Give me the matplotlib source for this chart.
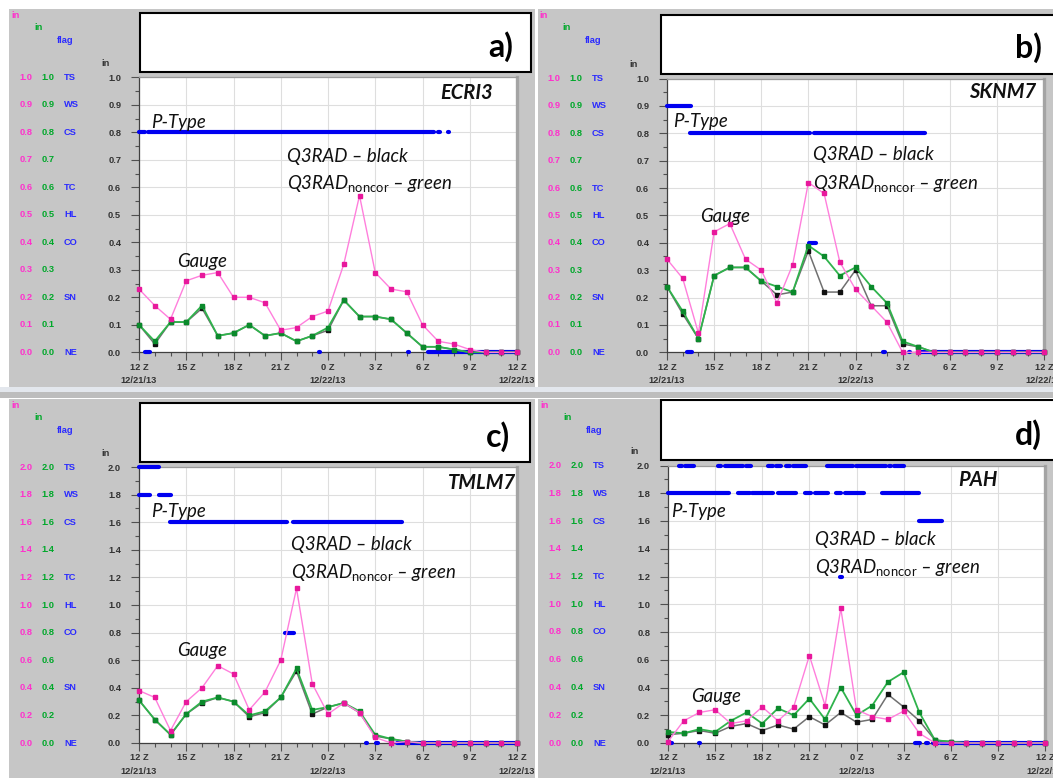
import numpy as np
import matplotlib.pyplot as plt
from matplotlib.patches import Rectangle

W, H = 1053, 778

HOURS = np.arange(25)
TICK_HOURS = [0, 3, 6, 9, 12, 15, 18, 21, 24]
TICK_LABELS = ["12 Z", "15 Z", "18 Z", "21 Z", "0 Z", "3 Z", "6 Z", "9 Z", "12 Z"]
DATE_HOURS = [0, 12, 24]
DATE_LABELS = ["12/21/13", "12/22/13", "12/22/13"]
FLAG_LABELS = ["TS", "WS", "CS", "", "TC", "HL", "CO", "", "SN", "", "NE"]

# hourly precipitation (in), 12Z 12/21/13 .. 12Z 12/22/13
ecri3_gauge = [0.23, 0.17, 0.12, 0.26, 0.28, 0.29, 0.20, 0.20, 0.18, 0.08, 0.09, 0.13, 0.15,
               0.32, 0.57, 0.29, 0.23, 0.22, 0.10, 0.04, 0.03, 0.01, 0.0, 0.0, 0.0]
ecri3_q3rad = [0.10, 0.03, 0.11, 0.11, 0.16, 0.06, 0.07, 0.10, 0.06, 0.07, 0.04, 0.06, 0.08,
               0.19, 0.13, 0.13, 0.12, 0.07, 0.02, 0.02, 0.01, 0.0, 0.0, 0.0, 0.0]
ecri3_noncor = [0.10, 0.04, 0.11, 0.11, 0.17, 0.06, 0.07, 0.10, 0.06, 0.07, 0.04, 0.06, 0.09,
                0.19, 0.13, 0.13, 0.12, 0.07, 0.02, 0.02, 0.01, 0.0, 0.0, 0.0, 0.0]
# precip type flags as (level, start hour, end hour)
ecri3_ptype = [(0.8, 0.0, 0.35), (0.8, 0.6, 18.7), (0.8, 19.0, 19.1), (0.8, 19.6, 19.7),
               (0.0, 0.4, 0.7), (0.0, 11.4, 11.5), (0.0, 17.05, 17.15), (0.0, 18.35, 24.0)]

sknm7_gauge = [0.34, 0.27, 0.07, 0.44, 0.47, 0.34, 0.30, 0.18, 0.32, 0.62, 0.58, 0.33, 0.23,
               0.17, 0.11, 0.0, 0.0, 0.0, 0.0, 0.0, 0.0, 0.0, 0.0, 0.0, 0.0]
sknm7_q3rad = [0.24, 0.14, 0.05, 0.28, 0.31, 0.31, 0.26, 0.21, 0.22, 0.37, 0.22, 0.22, 0.30,
               0.17, 0.17, 0.03, 0.02, 0.0, 0.0, 0.0, 0.0, 0.0, 0.0, 0.0, 0.0]
sknm7_noncor = [0.24, 0.15, 0.05, 0.28, 0.31, 0.31, 0.26, 0.24, 0.22, 0.39, 0.35, 0.28, 0.31,
                0.24, 0.18, 0.04, 0.02, 0.0, 0.0, 0.0, 0.0, 0.0, 0.0, 0.0, 0.0]
sknm7_ptype = [(0.9, 0.0, 1.5), (0.8, 1.45, 9.1), (0.8, 9.35, 16.4), (0.4, 9.05, 9.5),
               (0.0, 1.3, 1.6), (0.0, 13.75, 13.85), (0.0, 15.4, 15.5), (0.0, 16.2, 24.0)]

tmlm7_gauge = [0.38, 0.33, 0.09, 0.30, 0.40, 0.56, 0.50, 0.24, 0.37, 0.60, 1.12, 0.43, 0.21,
               0.29, 0.22, 0.04, 0.0, 0.01, 0.0, 0.0, 0.0, 0.0, 0.0, 0.0, 0.0]
tmlm7_q3rad = [0.31, 0.17, 0.06, 0.21, 0.29, 0.33, 0.30, 0.19, 0.22, 0.33, 0.52, 0.21, 0.26,
               0.29, 0.22, 0.05, 0.03, 0.01, 0.0, 0.0, 0.0, 0.0, 0.0, 0.0, 0.0]
tmlm7_noncor = [0.31, 0.17, 0.06, 0.21, 0.30, 0.33, 0.30, 0.20, 0.23, 0.33, 0.54, 0.24, 0.26,
                0.29, 0.23, 0.06, 0.03, 0.01, 0.0, 0.0, 0.0, 0.0, 0.0, 0.0, 0.0]
tmlm7_ptype = [(2.0, 0.0, 1.3), (1.8, 0.0, 0.7), (1.8, 1.3, 2.0), (1.6, 1.95, 9.4),
               (1.6, 9.75, 16.7), (0.8, 9.3, 9.85), (0.0, 14.4, 14.5), (0.0, 15.05, 15.15),
               (0.0, 16.4, 24.0)]

pah_gauge = [0.01, 0.16, 0.22, 0.24, 0.14, 0.16, 0.26, 0.16, 0.26, 0.63, 0.27, 0.97, 0.24,
             0.19, 0.17, 0.23, 0.07, 0.0, 0.0, 0.0, 0.0, 0.0, 0.0, 0.0, 0.0]
pah_q3rad = [0.06, 0.07, 0.09, 0.07, 0.12, 0.14, 0.09, 0.13, 0.10, 0.19, 0.13, 0.22, 0.15,
             0.17, 0.35, 0.26, 0.16, 0.02, 0.01, 0.0, 0.0, 0.0, 0.0, 0.0, 0.0]
pah_noncor = [0.08, 0.07, 0.10, 0.08, 0.16, 0.22, 0.14, 0.25, 0.20, 0.32, 0.17, 0.40, 0.20,
              0.27, 0.44, 0.51, 0.22, 0.02, 0.01, 0.0, 0.0, 0.0, 0.0, 0.0, 0.0]
pah_ptype = [(2.0, 0.68, 0.9), (2.0, 1.1, 1.65), (2.0, 3.2, 3.4), (2.0, 3.6, 4.8),
             (2.0, 4.95, 5.3), (2.0, 6.35, 6.7), (2.0, 6.9, 7.2), (2.0, 7.5, 7.75),
             (2.0, 7.95, 8.8), (2.0, 10.1, 11.8), (2.0, 11.95, 13.9), (2.0, 14.1, 14.2),
             (2.0, 14.4, 15.0),
             (1.8, 0.0, 3.9), (1.8, 4.45, 5.2), (1.8, 5.35, 6.7), (1.8, 7.0, 8.15),
             (1.8, 8.7, 9.1), (1.8, 9.35, 10.2), (1.8, 10.7, 11.0), (1.8, 11.25, 12.5),
             (1.8, 13.6, 15.95), (1.6, 15.95, 17.45), (1.2, 10.95, 11.05),
             (0.0, 0.1, 0.25), (0.0, 1.95, 2.05), (0.0, 15.7, 16.05), (0.0, 16.45, 16.55),
             (0.0, 16.85, 17.2), (0.0, 17.4, 24.0)]

PANEL_GRAY = "#c6c6c6"
PINK, PINK_MK = "#ff7fdc", "#e8189c"
GREEN, GREEN_MK = "#2fb34c", "#0b8a2c"
BLACK, BLACK_MK = "#707070", "#111111"
BLUE = "#0000f0"
LABEL_PINK, LABEL_GREEN, LABEL_BLUE = "#ff30cc", "#00a82a", "#2a2aff"
AXIS_TXT = "#333333"

plt.rcParams["mathtext.fontset"] = "custom"
plt.rcParams["mathtext.rm"] = "Lato"
plt.rcParams["mathtext.it"] = "Lato:italic"

SMALL = dict(family="Liberation Sans", fontweight="bold", fontsize=6.7)
NOTE = dict(family="Lato", fontstyle="italic", fontsize=13.4, color="#111111")

panels = [
    dict(tag="a)", name="ECRI3", gauge=ecri3_gauge, q3rad=ecri3_q3rad, noncor=ecri3_noncor,
         ptype=ecri3_ptype, ymax=1.0, step=0.1,
         gray=(9, 9, 535, 387), box=(140, 13, 531, 72), plot=(139, 77.3, 517, 352.3),
         tag_xy=(513, 47), notes=dict(ptype=(0.75, 0.814), gauge=(2.41, 0.311),
                                      q3=(9.37, 0.693, 0.592), name=(22.46, 0.92))),
    dict(tag="b)", name="SKNM7", gauge=sknm7_gauge, q3rad=sknm7_q3rad, noncor=sknm7_noncor,
         ptype=sknm7_ptype, ymax=1.0, step=0.1,
         gray=(538, 9, 1053, 387), box=(661, 15, 1060, 74), plot=(667, 78.5, 1044, 352.3),
         tag_xy=(1042, 48), notes=dict(ptype=(0.41, 0.822), gauge=(2.13, 0.475),
                                       q3=(9.31, 0.702, 0.598), name=(23.5, 0.929))),
    dict(tag="c)", name="TMLM7", gauge=tmlm7_gauge, q3rad=tmlm7_q3rad, noncor=tmlm7_noncor,
         ptype=tmlm7_ptype, ymax=2.0, step=0.2,
         gray=(9, 399, 535, 778), box=(140, 403, 530, 462), plot=(139, 467, 517, 743),
         tag_xy=(510, 437), notes=dict(ptype=(0.75, 1.638), gauge=(2.41, 0.633),
                                       q3=(9.66, 1.401, 1.196), name=(23.96, 1.841))),
    dict(tag="d)", name="PAH", gauge=pah_gauge, q3rad=pah_q3rad, noncor=pah_noncor,
         ptype=pah_ptype, ymax=2.0, step=0.2,
         gray=(538, 399, 1053, 778), box=(661, 400, 1060, 460), plot=(668, 465.5, 1045, 743),
         tag_xy=(1042, 435), notes=dict(ptype=(0.19, 1.631), gauge=(1.48, 0.293),
                                        q3=(9.35, 1.427, 1.223), name=(21.0, 1.851))),
]


def fig_box(x0, y0, x1, y1):
    return [x0 / W, 1 - y1 / H, (x1 - x0) / W, (y1 - y0) / H]


def draw_panel(fig, p):
    gx0, gy0, gx1, gy1 = p["gray"]
    px0, ptop, px1, pbot = p["plot"]
    ymax, step = p["ymax"], p["step"]

    # gray window background, data coords = image pixels
    bg = fig.add_axes(fig_box(gx0, gy0, gx1, gy1), zorder=0)
    bg.set_xlim(gx0, gx1)
    bg.set_ylim(gy1, gy0)
    bg.set_facecolor(PANEL_GRAY)
    bg.set_xticks([])
    bg.set_yticks([])
    for s in bg.spines.values():
        s.set_visible(False)

    bx0, by0, bx1, by1 = p["box"]
    bg.add_patch(Rectangle((bx0, by0), bx1 - bx0, by1 - by0, facecolor="white",
                           edgecolor="black", lw=1.5))
    bg.text(p["tag_xy"][0], p["tag_xy"][1], p["tag"], ha="right", va="center",
            family="Lato", fontweight="bold", fontsize=23)

    # three label columns left of the axis
    def ypix(v):
        return ptop + (ymax - v) / ymax * (pbot - ptop)

    bg.text(px0 - 123, gy0 + 7, "in", color=LABEL_PINK, ha="center", va="center", **SMALL)
    bg.text(px0 - 100, gy0 + 19, "in", color=LABEL_GREEN, ha="center", va="center", **SMALL)
    bg.text(px0 - 74, gy0 + 31.5, "flag", color=LABEL_BLUE, ha="center", va="center", **SMALL)
    bg.text(px0 - 33, ptop - 14, "in", color=AXIS_TXT, ha="center", va="center", **SMALL)
    levels = np.round(np.arange(ymax, -1e-9, -step), 2)
    for v, flag in zip(levels, FLAG_LABELS):
        y = ypix(v)
        bg.text(px0 - 113, y, f"{v:.1f}", color=LABEL_PINK, ha="center", va="center", **SMALL)
        bg.text(px0 - 91, y, f"{v:.1f}", color=LABEL_GREEN, ha="center", va="center", **SMALL)
        bg.text(px0 - 75, y, flag, color=LABEL_BLUE, ha="left", va="center", **SMALL)

    # time labels under the axis, clipped at the window edge
    for h, lab in zip(TICK_HOURS, TICK_LABELS):
        x = px0 + h / 24 * (px1 - px0)
        bg.text(x, pbot + 15, lab, color=AXIS_TXT, ha="center", va="center",
                clip_on=True, **SMALL)
    for h, lab in zip(DATE_HOURS, DATE_LABELS):
        x = px0 + h / 24 * (px1 - px0)
        bg.text(x, pbot + 28.5, lab, color=AXIS_TXT, ha="center", va="center",
                clip_on=True, **SMALL)

    # plot area
    ax = fig.add_axes(fig_box(px0, ptop, px1, pbot), zorder=2)
    ax.set_facecolor("white")
    ax.set_xlim(0, 24)
    ax.set_ylim(0, ymax)
    ax.set_xticks(TICK_HOURS)
    ax.set_xticks(HOURS, minor=True)
    ax.set_xticklabels([])
    ax.set_yticks(levels)
    ax.set_yticks(np.round(np.arange(step / 2, ymax, step), 3), minor=True)
    ax.set_yticklabels([f"{v:.1f}" for v in levels], color=AXIS_TXT, **SMALL)
    ax.tick_params(which="major", direction="out", length=5.8, width=0.8, color="#505050",
                   pad=7.0)
    ax.tick_params(which="minor", direction="out", length=3, width=0.8, color="#505050")
    ax.grid(which="major", color="#dedede", lw=0.8)
    ax.set_axisbelow(True)
    for side in ("left", "bottom"):
        ax.spines[side].set_color("#404040")
        ax.spines[side].set_linewidth(0.9)
    ax.spines["top"].set_color("#9a9a9a")
    ax.spines["top"].set_linewidth(0.9)
    ax.spines["right"].set_color("#a4a4a4")
    ax.spines["right"].set_linewidth(2.4)

    for level, h0, h1 in p["ptype"]:
        ax.plot([h0, h1], [level, level], color=BLUE, lw=3.0, solid_capstyle="round",
                clip_on=False, zorder=3)
    ax.plot(HOURS, p["q3rad"], color=BLACK, lw=1.1, marker="s", ms=3.0,
            mfc=BLACK_MK, mec=BLACK_MK, clip_on=False, zorder=4)
    ax.plot(HOURS, p["noncor"], color=GREEN, lw=1.3, marker="s", ms=3.4,
            mfc=GREEN_MK, mec=GREEN_MK, clip_on=False, zorder=5)
    ax.plot(HOURS, p["gauge"], color=PINK, lw=1.0, marker="s", ms=2.8,
            mfc=PINK_MK, mec=PINK_MK, clip_on=False, zorder=6)

    n = p["notes"]
    ax.text(n["ptype"][0], n["ptype"][1], "P-Type", ha="left", va="baseline", **NOTE)
    ax.text(n["gauge"][0], n["gauge"][1], "Gauge", ha="left", va="baseline", **NOTE)
    ax.text(n["q3"][0], n["q3"][1], "Q3RAD – black", ha="left", va="baseline", **NOTE)
    ax.text(n["q3"][0], n["q3"][2], r"Q3RAD$_{\mathrm{noncor}}$ – green", ha="left",
            va="baseline", **NOTE)
    ax.text(n["name"][0], n["name"][1], p["name"], ha="right", va="baseline",
            family="Lato", fontstyle="italic", fontweight="bold", fontsize=14.5,
            color="#111111")


fig = plt.figure(figsize=(W / 100, H / 100), dpi=100)
fig.patch.set_facecolor("white")
# strip between the upper and lower windows
fig.patches.append(Rectangle((0, 1 - 392 / H), 1, 5 / H, transform=fig.transFigure,
                             facecolor="#e3e7ed", edgecolor="none", zorder=-1))
fig.patches.append(Rectangle((0, 1 - 398 / H), 1, 6 / H, transform=fig.transFigure,
                             facecolor="#bdbdbd", edgecolor="none", zorder=-1))

for p in panels:
    draw_panel(fig, p)

fig.savefig("out.png", dpi=100, facecolor=fig.get_facecolor())
